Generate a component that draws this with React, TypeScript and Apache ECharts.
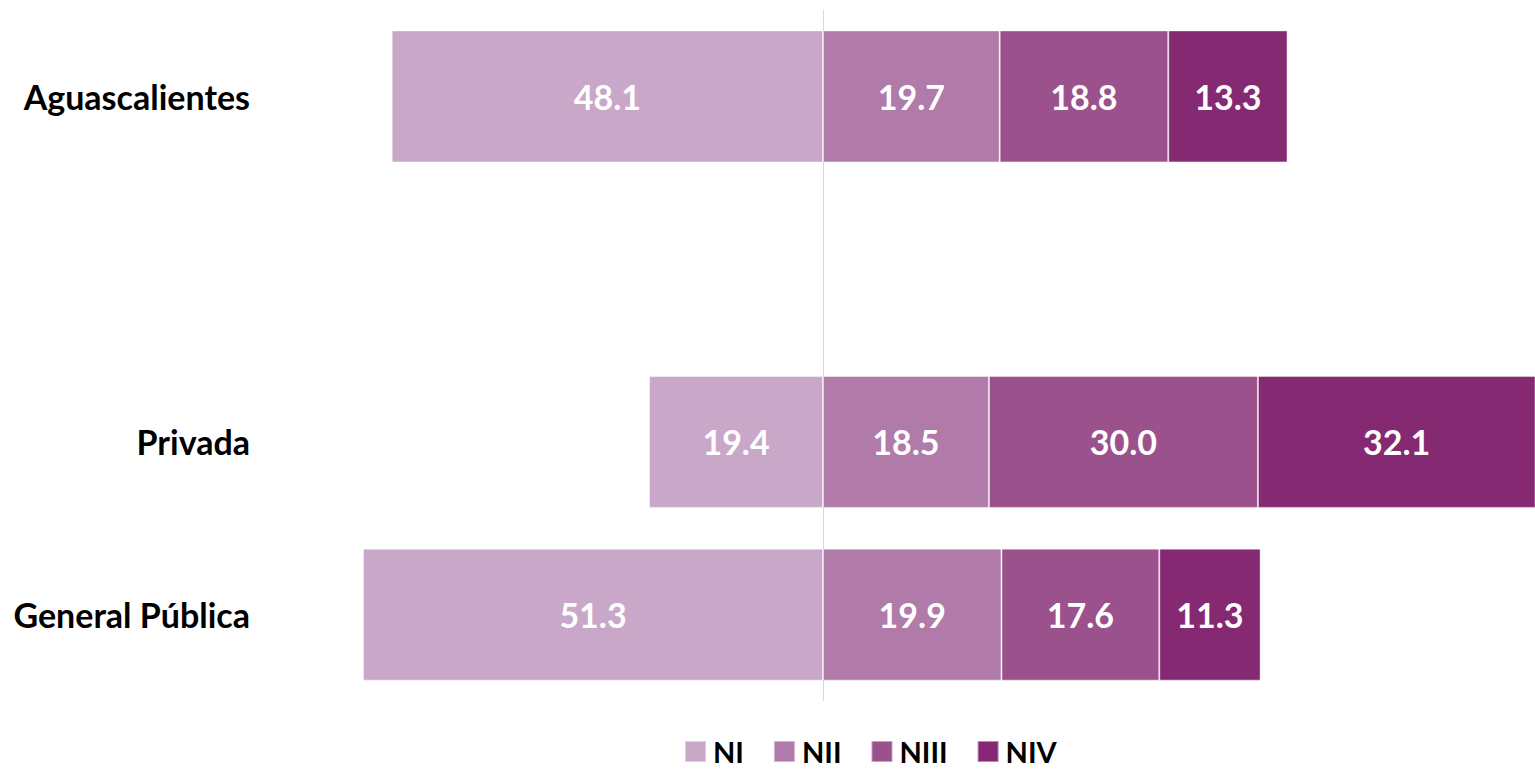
import React, { useEffect, useRef } from "react";
import * as echarts from "echarts";

const categories = ["Aguascalientes", "", "Privada", "General Pública"];
const seriesNames = ["NI", "NII", "NIII", "NIV"];
const valuesNI = [-48.1, null, -19.4, -51.3];
const valuesNII = [19.7, null, 18.5, 19.9];
const valuesNIII = [18.8, null, 30.0, 17.6];
const valuesNIV = [13.3, null, 32.1, 11.3];
const colors = ["#c9a7c9", "#b07ba8", "#9b528c", "#862973"];

const FONT = "Lato";

export default function App() {
  const ref = useRef<HTMLDivElement>(null);
  useEffect(() => {
    if (!ref.current) return;
    const chart = echarts.init(ref.current, undefined, { renderer: "svg" });
    const data = [valuesNI, valuesNII, valuesNIII, valuesNIV];
    const series: any[] = seriesNames.map((name, i) => ({
      name,
      type: "bar",
      stack: "total",
      barWidth: 132,
      data: data[i],
      itemStyle: {
        color: colors[i],
        borderColor: "rgba(255,255,255,0.45)",
        borderWidth: 1,
      },
      label: {
        show: true,
        position: "inside",
        color: "#ffffff",
        fontFamily: FONT,
        fontWeight: "bold",
        fontSize: 34,
        formatter: (p: any) =>
          p.value == null ? "" : Math.abs(Number(p.value)).toFixed(1),
      },
    }));
    series[0].markLine = {
      silent: true,
      symbol: "none",
      label: { show: false },
      lineStyle: { color: "#d9d9d9", width: 1, type: "solid" },
      data: [{ xAxis: 0 }],
    };
    chart.setOption({
      animation: false,
      backgroundColor: "#ffffff",
      grid: { left: 285, right: 0, top: 10, bottom: 72, containLabel: false },
      xAxis: {
        type: "value",
        min: -60,
        max: 79.4,
        show: false,
        splitLine: { show: false },
      },
      yAxis: {
        type: "category",
        data: categories,
        inverse: true,
        axisLine: { show: false },
        axisTick: { show: false },
        axisLabel: {
          margin: 35,
          color: "#000000",
          fontFamily: FONT,
          fontWeight: "bold",
          fontSize: 34,
        },
      },
      legend: {
        left: 684,
        top: 737,
        padding: 0,
        icon: "rect",
        itemWidth: 21,
        itemHeight: 21,
        itemGap: 29,
        textStyle: {
          color: "#000000",
          fontFamily: FONT,
          fontWeight: "bold",
          fontSize: 29,
          padding: [0, 0, 0, 2],
        },
        data: seriesNames,
      },
      series,
    });
    return () => chart.dispose();
  }, []);
  return (
    <div
      ref={ref}
      style={{ position: "fixed", left: 0, top: 0, width: 1535, height: 773 }}
    />
  );
}
